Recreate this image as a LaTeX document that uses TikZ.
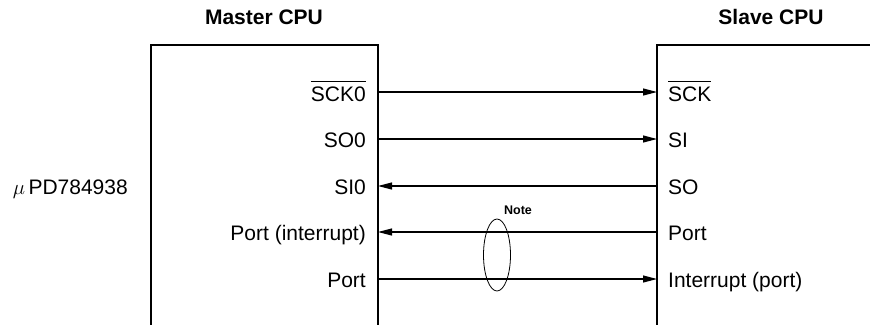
\documentclass[tikz,border=0pt]{standalone}
\usepackage{fontspec}
\setmainfont{Liberation Sans}
\usepackage{tikz}
\usetikzlibrary{arrows.meta,shapes.geometric}

\begin{document}
\begin{tikzpicture}[x=1pt,y=-1pt,
    cpu/.style={line width=2.6pt},
    sig/.style={line width=1.1pt, -{Triangle[length=14pt,width=7pt]}},
    pinL/.style={anchor=base east, inner sep=0pt, font=\fontsize{21}{25}\selectfont},
    pinR/.style={anchor=base west, inner sep=0pt, font=\fontsize{21}{25}\selectfont},
    title/.style={inner sep=0pt, font=\fontsize{21}{25}\selectfont\bfseries}]
    \useasboundingbox (0,0) rectangle (870,324);
    % the two CPUs, both cut off by the page
    \draw[cpu] (151,340) -- (151,45) -- (378,45) -- (378,340);
    \draw[cpu] (657,340) -- (657,45) -- (890,45);
    \node[title] (master) at (264,17) {Master CPU};
    \node[title] (slave)  at (771,17) {Slave CPU};
    \node[anchor=base east, inner sep=0pt, font=\fontsize{21}{25}\selectfont] (chip) at (128,194) {$\mu\,$PD784938};
    % pin points on the box edges
    \coordinate (mSCK) at (378,92);  \coordinate (sSCK) at (657,92);
    \coordinate (mSO)  at (378,139); \coordinate (sSI)  at (657,139);
    \coordinate (mSI)  at (378,186); \coordinate (sSO)  at (657,186);
    \coordinate (mINT) at (378,232); \coordinate (sPRT) at (657,232);
    \coordinate (mPRT) at (378,279); \coordinate (sINT) at (657,279);
    % pin names
    \node[pinL] (lSCK) at ([shift={(-12,9)}]mSCK) {$\overline{\raisebox{0pt}[18.5pt]{SCK0}}$};
    \node[pinL] (lSO)  at ([shift={(-12,8)}]mSO)  {SO0};
    \node[pinL] (lSI)  at ([shift={(-12,8)}]mSI)  {SI0};
    \node[pinL] (lINT) at ([shift={(-12,8)}]mINT) {Port (interrupt)};
    \node[pinL] (lPRT) at ([shift={(-12,8)}]mPRT) {Port};
    \node[pinR] (rSCK) at ([shift={(11,9)}]sSCK) {$\overline{\raisebox{0pt}[18.5pt]{SCK}}$};
    \node[pinR] (rSI)  at ([shift={(11,8)}]sSI)  {SI};
    \node[pinR] (rSO)  at ([shift={(11,8)}]sSO)  {SO};
    \node[pinR] (rPRT) at ([shift={(11,8)}]sPRT) {Port};
    \node[pinR] (rINT) at ([shift={(11,8)}]sINT) {Interrupt (port)};
    % handshake pair
    \node[draw, ellipse, line width=0.8pt, inner sep=0pt, minimum width=27pt, minimum height=72pt] (pair) at (497,255) {};
    \node[inner sep=0pt, font=\fontsize{12.5}{14}\selectfont\bfseries] (note) at (518,210) {Note};
    % signals
    \draw[sig] (mSCK) -- (sSCK);
    \draw[sig] (mSO) -- (sSI);
    \draw[sig] (sSO) -- (mSI);
    \draw[sig] (sPRT) -- (mINT);
    \draw[sig] (mPRT) -- (sINT);
\end{tikzpicture}
\end{document}
